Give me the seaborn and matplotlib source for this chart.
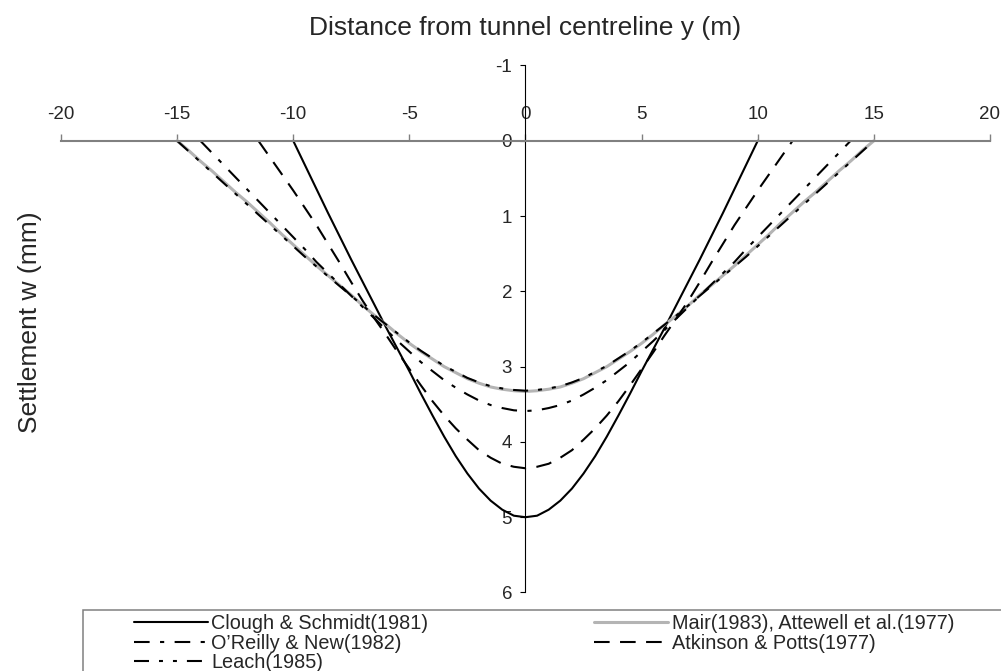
import numpy as np
import pandas as pd
import matplotlib
matplotlib.use("Agg")
import matplotlib.pyplot as plt
import seaborn as sns
from matplotlib.patches import Rectangle

# --- data (distance y in m, settlement w in mm) ---
methods = ["Clough & Schmidt(1981)", "Mair(1983), Attewell et al.(1977)",
           "O\u2019Reilly & New(1982)", "Atkinson & Potts(1977)", "Leach(1985)"]

clough_y = [-10, -9.5, -9, -8.5, -8, -7.5, -7, -6.5, -6, -5.5, -5, -4.5, -4, -3.5, -3, -2.5, -2, -1.5, -1, -0.5,
            0, 0.5, 1, 1.5, 2, 2.5, 3, 3.5, 4, 4.5, 5, 5.5, 6, 6.5, 7, 7.5, 8, 8.5, 9, 9.5, 10]
clough_w = [0.00, 0.32, 0.64, 0.96, 1.27, 1.58, 1.88, 2.18, 2.48, 2.77, 3.06, 3.36, 3.65, 3.93, 4.19, 4.42, 4.62, 4.78, 4.90, 4.98,
            5.00, 4.98, 4.90, 4.78, 4.62, 4.42, 4.19, 3.93, 3.65, 3.36, 3.06, 2.77, 2.48, 2.18, 1.88, 1.58, 1.27, 0.96, 0.64, 0.32, 0.00]

mair_y = [-15, -14.5, -14, -13.5, -13, -12.5, -12, -11.5, -11, -10.5, -10, -9.5, -9, -8.5, -8, -7.5,
          -7, -6.5, -6, -5.5, -5, -4.5, -4, -3.5, -3, -2.5, -2, -1.5, -1, -0.5,
          0, 0.5, 1, 1.5, 2, 2.5, 3, 3.5, 4, 4.5, 5, 5.5, 6, 6.5, 7,
          7.5, 8, 8.5, 9, 9.5, 10, 10.5, 11, 11.5, 12, 12.5, 13, 13.5, 14, 14.5, 15]
mair_w = [0.00, 0.13, 0.27, 0.40, 0.54, 0.68, 0.81, 0.95, 1.09, 1.24, 1.38, 1.52, 1.66, 1.79, 1.92, 2.05,
          2.19, 2.32, 2.44, 2.57, 2.69, 2.80, 2.90, 3.00, 3.08, 3.16, 3.22, 3.27, 3.30, 3.32,
          3.33, 3.32, 3.30, 3.27, 3.22, 3.16, 3.08, 3.00, 2.90, 2.80, 2.69, 2.57, 2.44, 2.32, 2.19,
          2.05, 1.92, 1.79, 1.66, 1.52, 1.38, 1.24, 1.09, 0.95, 0.81, 0.68, 0.54, 0.40, 0.27, 0.13, 0.00]

oreilly_y = [-14, -13.5, -13, -12.5, -12, -11.5, -11, -10.5, -10, -9.5, -9, -8.5, -8, -7.5,
             -7, -6.5, -6, -5.5, -5, -4.5, -4, -3.5, -3, -2.5, -2, -1.5, -1, -0.5,
             0, 0.5, 1, 1.5, 2, 2.5, 3, 3.5, 4, 4.5, 5, 5.5, 6, 6.5, 7,
             7.5, 8, 8.5, 9, 9.5, 10, 10.5, 11, 11.5, 12, 12.5, 13, 13.5, 14]
oreilly_w = [0.00, 0.16, 0.32, 0.48, 0.64, 0.80, 0.96, 1.12, 1.28, 1.44, 1.61, 1.76, 1.91, 2.06,
             2.21, 2.36, 2.51, 2.66, 2.80, 2.94, 3.06, 3.18, 3.28, 3.37, 3.45, 3.51, 3.55, 3.58,
             3.59, 3.58, 3.55, 3.51, 3.45, 3.37, 3.28, 3.18, 3.06, 2.94, 2.80, 2.66, 2.51, 2.36, 2.21,
             2.06, 1.91, 1.76, 1.61, 1.44, 1.28, 1.12, 0.96, 0.80, 0.64, 0.48, 0.32, 0.16, 0.00]

atkinson_y = [-11.5, -11, -10.5, -10, -9.5, -9, -8.5, -8, -7.5, -7, -6.5, -6, -5.5, -5, -4.5, -4,
              -3.5, -3, -2.5, -2, -1.5, -1, -0.5, 0, 0.5, 1, 1.5, 2, 2.5, 3, 3.5,
              4, 4.5, 5, 5.5, 6, 6.5, 7, 7.5, 8, 8.5, 9, 9.5, 10, 10.5, 11, 11.5]
atkinson_w = [0.00, 0.22, 0.44, 0.66, 0.89, 1.12, 1.37, 1.62, 1.88, 2.13, 2.36, 2.58, 2.81, 3.03, 3.25, 3.46,
              3.65, 3.82, 3.97, 4.11, 4.21, 4.29, 4.33, 4.35, 4.33, 4.29, 4.21, 4.11, 3.97, 3.82, 3.65,
              3.46, 3.25, 3.03, 2.81, 2.58, 2.36, 2.13, 1.88, 1.62, 1.37, 1.12, 0.89, 0.66, 0.44, 0.22, 0.00]

leach_y = [-15, -14.5, -14, -13.5, -13, -12.5, -12, -11.5, -11, -10.5, -10, -9.5, -9, -8.5, -8, -7.5,
           -7, -6.5, -6, -5.5, -5, -4.5, -4, -3.5, -3, -2.5, -2, -1.5, -1, -0.5,
           0, 0.5, 1, 1.5, 2, 2.5, 3, 3.5, 4, 4.5, 5, 5.5, 6, 6.5, 7,
           7.5, 8, 8.5, 9, 9.5, 10, 10.5, 11, 11.5, 12, 12.5, 13, 13.5, 14, 14.5, 15]
leach_w = [0.00, 0.14, 0.28, 0.42, 0.56, 0.70, 0.84, 0.98, 1.12, 1.26, 1.40, 1.54, 1.67, 1.80, 1.93, 2.06,
           2.19, 2.32, 2.44, 2.56, 2.68, 2.79, 2.89, 2.99, 3.07, 3.15, 3.21, 3.26, 3.29, 3.31,
           3.32, 3.31, 3.29, 3.26, 3.21, 3.15, 3.07, 2.99, 2.89, 2.79, 2.68, 2.56, 2.44, 2.32, 2.19,
           2.06, 1.93, 1.80, 1.67, 1.54, 1.40, 1.26, 1.12, 0.98, 0.84, 0.70, 0.56, 0.42, 0.28, 0.14, 0.00]

x_ticks = [-20, -15, -10, -5, 0, 5, 10, 15, 20]
w_ticks = [-1, 0, 1, 2, 3, 4, 5, 6]

# long table for seaborn
series = [clough_w, mair_w, oreilly_w, atkinson_w, leach_w]
dists = [clough_y, mair_y, oreilly_y, atkinson_y, leach_y]
df = pd.concat([pd.DataFrame({"y": d, "w": s, "method": m})
                for m, d, s in zip(methods, dists, series)], ignore_index=True)

palette = {methods[0]: "black", methods[1]: "#b4b4b4", methods[2]: "black",
           methods[3]: "black", methods[4]: "black"}
dashes = {methods[0]: "", methods[1]: "", methods[2]: (7.5, 5, 2, 5),
          methods[3]: (7.5, 5), methods[4]: (7.2, 4.8, 1.9, 4.8, 1.9, 4.8)}

sns.set_style("white")
plt.rcParams['font.family'] = ['Liberation Sans', 'DejaVu Sans']
plt.rcParams['axes.unicode_minus'] = False

fig = plt.figure(figsize=(10.01, 6.71), dpi=100)
ax = fig.add_axes([0.0609, 0.1170, 0.9281, 0.7854])

sns.lineplot(data=df, x="y", y="w", hue="method", style="method",
             hue_order=methods, style_order=methods, palette=palette, dashes=dashes,
             estimator=None, sort=False, legend=False, ax=ax)

lines = ax.get_lines()
for ln, m in zip(lines, methods):
    ln.set_linewidth(2.2 if m == methods[1] else 1.5)

ax.set_xlim(-20, 20)
ax.set_ylim(6, -1)
ax.set_xticks(x_ticks)
ax.set_yticks(w_ticks)

# axes crossing at the origin
ax.spines['bottom'].set_visible(False)
ax.spines['right'].set_visible(False)
ax.spines['top'].set_position(('data', 0))
ax.spines['top'].set_color('#808080')
ax.spines['top'].set_linewidth(1.5)
ax.spines['left'].set_position(('data', 0))
ax.spines['left'].set_color('black')
ax.spines['left'].set_linewidth(0.8)

ax.xaxis.tick_top()
ax.tick_params(axis='x', top=True, bottom=False, labeltop=True, labelbottom=False,
               direction='out', length=5, width=1, color='#808080', pad=7.5, labelsize=13.5)
ax.tick_params(axis='y', left=True, direction='out', length=3.6, width=0.8,
               color='black', pad=6, labelsize=13.5)

ax.set_xlabel("Distance from tunnel centreline y (m)", fontsize=19)
ax.xaxis.set_label_position('top')
ax.xaxis.set_label_coords(0.5, 1.058)
ax.set_ylabel("Settlement w (mm)", fontsize=19)
ax.yaxis.set_label_coords(-0.020, 0.512)

# legend: row-major order of the original -> column-major for matplotlib
order = [0, 2, 4, 1, 3]
fig.legend([lines[i] for i in order], [methods[i] for i in order],
           ncol=2, loc='upper left', bbox_to_anchor=(0.1339, 0.0849),
           frameon=False, fontsize=14.3, handlelength=3.7, handletextpad=0.2,
           columnspacing=8.35, labelspacing=0.03, borderpad=0, borderaxespad=0)
fig.add_artist(Rectangle((0.0832, -0.05), 1.0, 0.0902 + 0.05, transform=fig.transFigure,
                         fill=False, edgecolor='#808080', linewidth=1.1))

fig.savefig("out.png", dpi=100)
